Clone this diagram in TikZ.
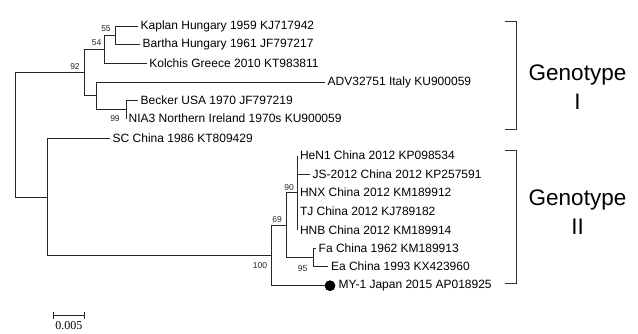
\documentclass[tikz,border=0pt]{standalone}
\usepackage{fontspec}
\setmainfont{Liberation Sans}
\newfontfamily\barfont{Liberation Serif}
\usetikzlibrary{positioning}
\tikzset{
  br/.style={draw=black!85,line width=.8pt},
  lf/.style={anchor=west,inner sep=2.5pt,font=\fontsize{12}{14}\selectfont},
  bs/.style={inner sep=0pt,font=\fontsize{8.5}{10}\selectfont,text=black!85},
  gt/.style={anchor=base,inner sep=0pt,font=\fontsize{22.5}{26}\selectfont},
  brk/.style={draw=black!80,line width=.8pt},
  dot/.style={circle,fill=black,minimum size=10.5pt,inner sep=0pt},
}

\begin{document}
\begin{tikzpicture}[x=1pt,y=-1pt]
\useasboundingbox (0,0) rectangle (638,333);
% internal nodes: x is the depth, y the middle of their children
\coordinate (r) at (15.7,134.65);
\coordinate (n92) at (84,72.4);
\coordinate (n54) at (104.5,49.1);
\coordinate (n55) at (115,35.2);
\coordinate (nB) at (96.7,95.7);
\coordinate (n99) at (126,109.25);
\coordinate (nII) at (47.7,196.9);
\coordinate (n100) at (271.7,255.45);
\coordinate (n69) at (286,225.2);
\coordinate (n90) at (297.3,192.85);
\coordinate (n95) at (313.3,257.5);
% genotype I leaves
\node[lf] (kap) at (138,26) {Kaplan Hungary 1959 KJ717942};
\node[lf] (bar) at (140,44.3) {Bartha Hungary 1961 JF797217};
\node[lf] (kol) at (146.7,63) {Kolchis Greece 2010 KT983811};
\node[lf] (adv) at (325,82.2) {ADV32751 Italy KU900059};
\node[lf] (bec) at (138,100) {Becker USA 1970 JF797219};
\node[lf] (nia) at (126,118.5) {NIA3 Northern Ireland 1970s KU900059};
% genotype II leaves
\node[lf] (sc) at (110,138.3) {SC China 1986 KT809429};
\node[lf] (hen) at (297.3,155.7) {HeN1 China 2012 KP098534};
\node[lf] (js) at (310,174.3) {JS-2012 China 2012 KP257591};
\node[lf] (hnx) at (297.3,192.7) {HNX China 2012 KM189912};
\node[lf] (tj) at (297.3,211) {TJ China 2012 KJ789182};
\node[lf] (hnb) at (297.3,230) {HNB China 2012 KM189914};
\node[lf] (fa) at (316,248.3) {Fa China 1962 KM189913};
\node[lf] (ea) at (328.3,266.7) {Ea China 1993 KX423960};
\node[dot] (mk) at (330,285.7) {};
\node[lf,right=0.5pt of mk] (my) {MY-1 Japan 2015 AP018925};
% branches
\draw[br] (r) |- (n92) (r) |- (nII);
\draw[br] (n92) |- (n54) (n92) |- (nB);
\draw[br] (n54) |- (n55) (n54) |- (kol.west);
\draw[br] (n55) |- (kap.west) (n55) |- (bar.west);
\draw[br] (nB) |- (adv.west) (nB) |- (n99);
\draw[br] (n99) |- (bec.west) (n99) |- (nia.west);
\draw[br] (nII) |- (sc.west) (nII) |- (n100);
\draw[br] (n100) |- (n69) (n100) |- (mk.center);
\draw[br] (n69) |- (n90) (n69) |- (n95);
\draw[br] (n90) |- (hen.west) (n90) |- (js.west) (n90) |- (hnx.west)
  (n90) |- (tj.west) (n90) |- (hnb.west);
\draw[br] (n95) |- (fa.west) (n95) |- (ea.west);
\node[dot] at (mk) {};
% bootstrap values
\node[bs] (b55) at (106,29) {55};
\node[bs] (b54) at (96.7,43) {54};
\node[bs] (b92) at (75,66.7) {92};
\node[bs] (b99) at (115,118.6) {99};
\node[bs] (b69) at (277,220) {69};
\node[bs] (b90) at (289,187.5) {90};
\node[bs] (b100) at (260,266) {100};
\node[bs] (b95) at (302.7,268.3) {95};
% genotype brackets
\draw[brk] (505,21.7) -- (516.7,21.7) -- (516.7,129) -- (505,129);
\draw[brk] (505,150) -- (516.7,150) -- (516.7,283) -- (505,283);
\node[gt] (gI) at (577.5,80) {Genotype};
\node[gt] (gIn) at (577.5,109.3) {I};
\node[gt] (gII) at (577.5,205.7) {Genotype};
\node[gt] (gIIn) at (577.5,234.3) {II};
% scale bar
\coordinate (sbl) at (53.3,315.7);
\coordinate (sbr) at (84.3,315.7);
\draw[br] (sbl) -- (sbr);
\draw[br] ([yshift=3.5pt]sbl) -- ([yshift=-3.5pt]sbl) ([yshift=3.5pt]sbr) -- ([yshift=-3.5pt]sbr);
\node[inner sep=0pt,font=\barfont\fontsize{12}{14}\selectfont] (sbt) at (68.8,326) {0.005};
\end{tikzpicture}
\end{document}
